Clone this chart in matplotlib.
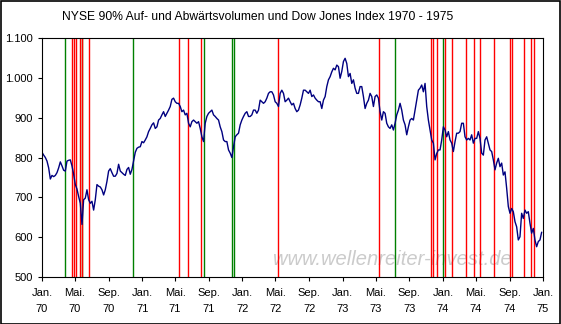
import pandas as pd
import matplotlib
matplotlib.use("Agg")
import matplotlib.pyplot as plt
import matplotlib.dates as mdates
from matplotlib.ticker import FuncFormatter, MultipleLocator
from matplotlib.patches import Rectangle

plt.rcParams["font.family"] = ["Liberation Sans", "DejaVu Sans"]

dow_1970 = [813, 806, 800, 791, 774, 746, 755, 752, 755, 762, 774, 789, 779, 768, 766,
            791, 793, 794, 779, 758, 732, 721, 702, 685, 632, 694, 698, 719, 694, 685,
            690, 668, 694, 732, 728, 726, 719, 706, 719, 740, 766, 772, 762, 753, 753,
            760, 783, 766, 762, 758, 755, 770, 775, 758, 770, 792, 813, 823, 826]
dow_1971 = [827, 840, 837, 844, 852, 865, 873, 882, 887, 873, 877, 894, 898, 907, 915,
            903, 911, 919, 928, 946, 949, 940, 936, 936, 928, 915, 919, 907, 911, 886,
            877, 890, 894, 890, 886, 890, 873, 852, 840, 886, 903, 911, 915, 919, 907,
            903, 898, 894, 877, 865, 844, 840, 840, 819, 811, 800, 827, 852, 857, 861]
dow_1972 = [882, 894, 903, 911, 915, 903, 903, 907, 919, 919, 911, 919, 944, 940, 936,
            940, 949, 961, 965, 965, 957, 940, 936, 928, 961, 969, 961, 940, 944, 949,
            940, 932, 936, 923, 915, 919, 932, 949, 969, 969, 965, 961, 969, 953, 957,
            949, 944, 940, 940, 923, 944, 953, 978, 995, 1003, 1015, 1024, 1020, 1032, 1028]
dow_1973 = [999, 1016, 1041, 1049, 1036, 1003, 1011, 986, 995, 974, 961, 961, 978, 978, 953,
            923, 936, 944, 961, 953, 928, 953, 957, 949, 915, 894, 915, 911, 886, 877,
            873, 882, 869, 886, 907, 919, 936, 919, 894, 882, 857, 877, 894, 898, 894,
            919, 944, 969, 974, 982, 965, 986, 928, 894, 869, 844, 836, 794, 810, 819]
dow_1974 = [819, 844, 877, 869, 852, 865, 844, 836, 815, 840, 861, 861, 865, 886, 886,
            852, 844, 848, 844, 857, 836, 848, 848, 865, 848, 811, 806, 844, 852, 836,
            819, 815, 794, 769, 786, 798, 777, 786, 756, 764, 723, 677, 660, 672, 664,
            639, 626, 593, 601, 660, 647, 668, 660, 664, 635, 610, 622, 593, 576, 589,
            593, 612]
dow = dow_1970 + dow_1971 + dow_1972 + dow_1973 + dow_1974
dates = pd.date_range("1970-01-01", "1974-12-27", periods=len(dow))

# Tage mit 90% Aufwaertsvolumen (gruen) und 90% Abwaertsvolumen (rot)
up_days = ["1970-03-27", "1970-05-28", "1970-11-30", "1971-08-16", "1971-11-26",
           "1971-11-30", "1973-07-11", "1974-01-03"]
down_days = ["1970-04-22", "1970-04-26", "1970-05-06", "1970-05-20", "1970-05-25",
             "1970-06-22", "1971-05-14", "1971-06-18", "1971-08-03", "1972-05-11",
             "1973-05-14", "1973-11-19", "1973-11-26", "1973-12-11", "1974-01-10",
             "1974-02-04", "1974-03-27", "1974-04-23", "1974-05-17", "1974-07-08",
             "1974-09-04", "1974-09-11", "1974-10-24", "1974-11-20", "1974-11-29"]

month_names = {1: "Jan.", 5: "Mai.", 9: "Sep."}

fig = plt.figure(figsize=(5.61, 3.24), dpi=100)
ax = fig.add_axes([42 / 561, 47 / 324, 501 / 561, 239 / 324])

for d in up_days:
    ax.axvline(pd.Timestamp(d), color="#008000", lw=1.0, zorder=1)
for d in down_days:
    ax.axvline(pd.Timestamp(d), color="#ff0000", lw=1.0, zorder=1)

ax.plot(dates, dow, color="#000080", lw=1.0, zorder=2)

ax.text(0.70, 0.075, "www.wellenreiter-invest.de", transform=ax.transAxes,
        ha="center", va="center", fontsize=14.5, color="#cbcbcb", style="italic", zorder=0)

ax.set_xlim(pd.Timestamp("1970-01-01"), pd.Timestamp("1975-01-01"))
ax.set_ylim(500, 1100)
ax.yaxis.set_major_locator(MultipleLocator(100))
ax.yaxis.set_major_formatter(FuncFormatter(lambda v, p: f"{v:,.0f}".replace(",", ".")))
ax.xaxis.set_major_locator(mdates.MonthLocator(bymonth=[1, 5, 9]))
ax.xaxis.set_major_formatter(FuncFormatter(
    lambda v, p: f"{month_names[mdates.num2date(v).month]}\n{mdates.num2date(v).year % 100:02d}"))

ax.tick_params(axis="both", labelsize=8, length=3, width=0.8, color="black")
ax.tick_params(axis="x", pad=5)
for lab in ax.get_xticklabels():
    lab.set_linespacing(1.75)
for s in ax.spines.values():
    s.set_linewidth(0.8)

fig.text(258 / 561, 1 - 17 / 324, "NYSE 90% Auf- und Abwärtsvolumen und Dow Jones Index 1970 - 1975",
         ha="center", va="center", fontsize=8.7)

fig.patches.append(Rectangle((0.001, 0.001), 0.997, 0.996, transform=fig.transFigure,
                             fill=False, edgecolor="black", lw=1.2))

fig.savefig("out.png", dpi=100)
